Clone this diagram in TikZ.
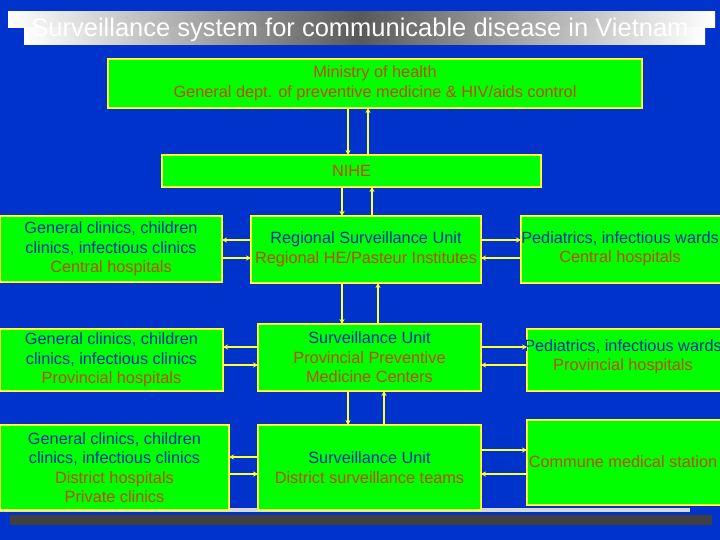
\documentclass[tikz,border=0pt]{standalone}
\usepackage{fontspec}
\setmainfont{Liberation Sans}
\usetikzlibrary{arrows.meta}
\definecolor{bg}{HTML}{0033CC}
\definecolor{gbox}{HTML}{00FF00}
\definecolor{ybord}{HTML}{FFFF33}
\definecolor{tblue}{HTML}{0033AA}
\definecolor{tbrown}{HTML}{C04A00}
\tikzset{
  box/.style={draw=ybord,line width=2.5pt,fill=gbox,align=center,inner sep=0pt,font=\fontsize{16.3}{19.5}\selectfont},
  txt/.style={align=center,inner sep=0pt,font=\fontsize{16.3}{19.5}\selectfont},
  con/.style={draw=ybord,line width=1.6pt,-{Stealth[length=5pt,width=5pt]}},
}
\newcommand{\bx}[6]{\node[box,minimum width=#3-#1,minimum height=#4-#2] (#5) at ({(#1+#3)/2},{(#2+#4)/2}) {#6};}
\begin{document}
\begin{tikzpicture}[x=1pt,y=-1pt]
\useasboundingbox (0,0) rectangle (720,540);
\clip (0,0) rectangle (720,540);
\fill[bg] (0,0) rectangle (720,540);
% title bars
\shade[left color=white,right color=gray!70!black] (8,12) rectangle (360,28);
\shade[left color=gray!70!black,right color=white] (360,12) rectangle (715,28);
\shade[left color=white,right color=gray!70!black] (24,28) rectangle (360,45);
\shade[left color=gray!70!black,right color=white] (360,28) rectangle (705,45);
\node[text=white,font=\fontsize{25.5}{27}\selectfont] (title) at (360,30) {Surveillance system for communicable disease in Vietnam};
% bottom bars
\fill[gray!30] (0,508) rectangle (690,512);
\fill[gray!50!black] (10,515) rectangle (712,525);
% boxes
\bx{108}{59}{642}{108}{moh}{\color{tbrown}Ministry of health\\\color{tbrown}General dept. of preventive medicine \& HIV/aids control}
\bx{162}{155}{541}{187}{nihe}{\color{tbrown}NIHE}
\bx{0}{216}{222}{282}{l1}{\color{tblue}General clinics, children\\\color{tblue}clinics, infectious clinics\\\color{tbrown}Central hospitals}
\bx{251}{216}{481}{283}{m1}{\color{tblue}Regional Surveillance Unit\\\color{tbrown}Regional HE/Pasteur Institutes}
\bx{521}{216}{740}{283}{r1}{}
\node[txt] (r1t) at (620,249) {\color{tblue}Pediatrics, infectious wards\\\color{tbrown}Central hospitals};
\bx{0}{329}{223}{391}{l2}{\color{tblue}General clinics, children\\\color{tblue}clinics, infectious clinics\\\color{tbrown}Provincial hospitals}
\bx{258}{324}{481}{391}{m2}{\color{tblue}Surveillance Unit\\\color{tbrown}Provincial Preventive\\\color{tbrown}Medicine Centers}
\bx{527}{329}{746}{391}{r2}{}
\node[txt] (r2t) at (623,357) {\color{tblue}Pediatrics, infectious wards\\\color{tbrown}Provincial hospitals};
\bx{0}{425}{229}{510}{l3}{\color{tblue}General clinics, children\\\color{tblue}clinics, infectious clinics\\\color{tbrown}District hospitals\\\color{tbrown}Private clinics}
\bx{258}{425}{481}{510}{m3}{\color{tblue}Surveillance Unit\\\color{tbrown}District surveillance teams}
\bx{527}{420}{746}{505}{r3}{}
\node[txt] (r3t) at (623,462) {\color{tbrown}Commune medical station};
% vertical connectors
\draw[con] (348,108) -- (348,155);
\draw[con] (368,155) -- (368,108);
\draw[con] (342,187) -- (342,216);
\draw[con] (372,216) -- (372,187);
\draw[con] (342,283) -- (342,324);
\draw[con] (378,324) -- (378,283);
\draw[con] (348,391) -- (348,425);
\draw[con] (384,425) -- (384,391);
% horizontal connectors
\draw[con] (251,240) -- (222,240);
\draw[con] (222,258) -- (251,258);
\draw[con] (481,240) -- (521,240);
\draw[con] (521,258) -- (481,258);
\draw[con] (258,347) -- (223,347);
\draw[con] (223,365) -- (258,365);
\draw[con] (481,347) -- (527,347);
\draw[con] (527,365) -- (481,365);
\draw[con] (258,457) -- (229,457);
\draw[con] (229,474) -- (258,474);
\draw[con] (481,450) -- (527,450);
\draw[con] (527,474) -- (481,474);
\end{tikzpicture}
\end{document}
